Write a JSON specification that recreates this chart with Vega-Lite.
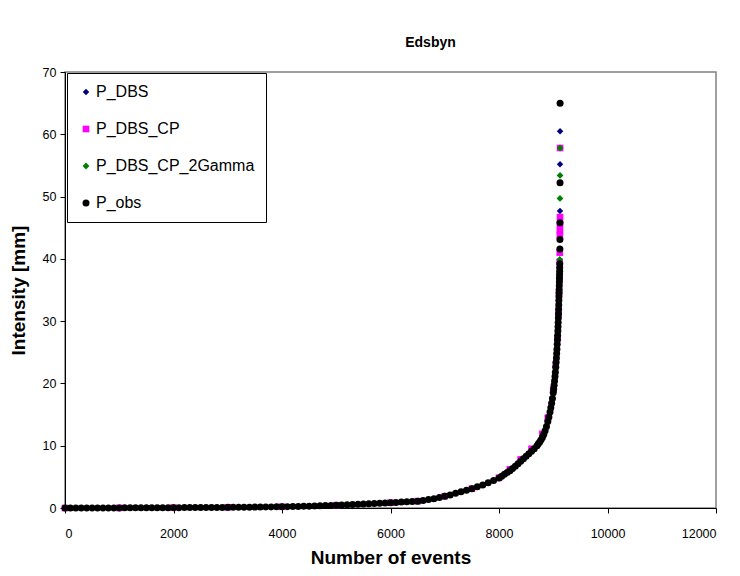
{
  "$schema": "https://vega.github.io/schema/vega-lite/v6.json",
  "width": 651,
  "height": 436,
  "autosize": {"type": "none"},
  "padding": {"left": 65, "top": 72, "right": 24, "bottom": 68},
  "background": "white",
  "config": {
    "font": "Liberation Sans",
    "view": {"stroke": "#808080", "strokeWidth": 1.5},
    "legend": {
      "orient": "none", "legendX": 2, "legendY": 1, "padding": 11, "rowPadding": 21,
      "labelFontSize": 16, "labelFont": "Liberation Sans", "labelColor": "black", "labelLimit": 300,
      "strokeColor": "#000000", "fillColor": "white", "symbolStrokeWidth": 0, "labelOffset": 2
    },
    "axis": {
      "grid": false, "domainColor": "black", "tickColor": "black", "tickSize": 5,
      "labelFont": "Liberation Sans", "labelFontSize": 12.5, "labelColor": "black",
      "titleFont": "Liberation Sans", "titleFontSize": 19, "titleFontWeight": "bold", "titleColor": "black"
    }
  },
  "title": {"text": "Edsbyn", "fontSize": 14, "fontWeight": "bold", "font": "Liberation Sans", "anchor": "middle", "dx": 40, "offset": 16, "color": "black"},
  "data": {"values": [
    {"s":"P_DBS","x":0,"y":0},{"s":"P_DBS","x":1000,"y":0.02},{"s":"P_DBS","x":2000,"y":0.06},{"s":"P_DBS","x":3000,"y":0.11},{"s":"P_DBS","x":4000,"y":0.2},{"s":"P_DBS","x":5000,"y":0.45},{"s":"P_DBS","x":6000,"y":0.85},{"s":"P_DBS","x":6500,"y":1.1},{"s":"P_DBS","x":7000,"y":1.9},{"s":"P_DBS","x":7500,"y":3.1},{"s":"P_DBS","x":8000,"y":4.8},{"s":"P_DBS","x":8200,"y":6.0},{"s":"P_DBS","x":8400,"y":7.5},{"s":"P_DBS","x":8600,"y":9.1},{"s":"P_DBS","x":8800,"y":11.3},{"s":"P_DBS","x":8900,"y":13.9},{"s":"P_DBS","x":9000,"y":18.5},{"s":"P_DBS","x":9046,"y":22.6},{"s":"P_DBS","x":9077,"y":27.0},{"s":"P_DBS","x":9097,"y":31.2},{"s":"P_DBS","x":9107,"y":34.5},{"s":"P_DBS","x":9115,"y":36.9},{"s":"P_DBS","x":9119,"y":38.6},{"s":"P_DBS","x":9120,"y":39.4},{"s":"P_DBS","x":9122,"y":41.6},{"s":"P_DBS","x":9123,"y":43.2},{"s":"P_DBS","x":9124,"y":47.7},{"s":"P_DBS","x":9125,"y":55.2},{"s":"P_DBS","x":9126,"y":60.5},
    {"s":"P_DBS_CP","x":0,"y":0},{"s":"P_DBS_CP","x":1000,"y":0.02},{"s":"P_DBS_CP","x":2000,"y":0.06},{"s":"P_DBS_CP","x":3000,"y":0.11},{"s":"P_DBS_CP","x":4000,"y":0.2},{"s":"P_DBS_CP","x":5000,"y":0.45},{"s":"P_DBS_CP","x":6000,"y":0.85},{"s":"P_DBS_CP","x":6500,"y":1.1},{"s":"P_DBS_CP","x":7000,"y":1.9},{"s":"P_DBS_CP","x":7500,"y":3.1},{"s":"P_DBS_CP","x":8000,"y":4.85},{"s":"P_DBS_CP","x":8200,"y":6.2},{"s":"P_DBS_CP","x":8400,"y":7.8},{"s":"P_DBS_CP","x":8600,"y":9.5},{"s":"P_DBS_CP","x":8800,"y":11.9},{"s":"P_DBS_CP","x":8900,"y":14.5},{"s":"P_DBS_CP","x":9000,"y":19.0},{"s":"P_DBS_CP","x":9046,"y":23.0},{"s":"P_DBS_CP","x":9077,"y":27.3},{"s":"P_DBS_CP","x":9097,"y":31.2},{"s":"P_DBS_CP","x":9107,"y":34.5},{"s":"P_DBS_CP","x":9115,"y":36.9},{"s":"P_DBS_CP","x":9119,"y":39.5},{"s":"P_DBS_CP","x":9120,"y":41.0},{"s":"P_DBS_CP","x":9122,"y":43.8},{"s":"P_DBS_CP","x":9123,"y":44.6},{"s":"P_DBS_CP","x":9124,"y":45.6},{"s":"P_DBS_CP","x":9125,"y":46.7},{"s":"P_DBS_CP","x":9126,"y":57.8},
    {"s":"P_DBS_CP_2Gamma","x":0,"y":0},{"s":"P_DBS_CP_2Gamma","x":1000,"y":0.02},{"s":"P_DBS_CP_2Gamma","x":2000,"y":0.06},{"s":"P_DBS_CP_2Gamma","x":3000,"y":0.11},{"s":"P_DBS_CP_2Gamma","x":4000,"y":0.2},{"s":"P_DBS_CP_2Gamma","x":5000,"y":0.45},{"s":"P_DBS_CP_2Gamma","x":6000,"y":0.85},{"s":"P_DBS_CP_2Gamma","x":6500,"y":1.1},{"s":"P_DBS_CP_2Gamma","x":7000,"y":1.9},{"s":"P_DBS_CP_2Gamma","x":7500,"y":3.1},{"s":"P_DBS_CP_2Gamma","x":8000,"y":4.8},{"s":"P_DBS_CP_2Gamma","x":8200,"y":6.0},{"s":"P_DBS_CP_2Gamma","x":8400,"y":7.6},{"s":"P_DBS_CP_2Gamma","x":8600,"y":9.2},{"s":"P_DBS_CP_2Gamma","x":8800,"y":11.5},{"s":"P_DBS_CP_2Gamma","x":8900,"y":14.1},{"s":"P_DBS_CP_2Gamma","x":9000,"y":18.7},{"s":"P_DBS_CP_2Gamma","x":9046,"y":22.7},{"s":"P_DBS_CP_2Gamma","x":9077,"y":27.0},{"s":"P_DBS_CP_2Gamma","x":9097,"y":31.2},{"s":"P_DBS_CP_2Gamma","x":9107,"y":34.5},{"s":"P_DBS_CP_2Gamma","x":9115,"y":36.9},{"s":"P_DBS_CP_2Gamma","x":9119,"y":38.5},{"s":"P_DBS_CP_2Gamma","x":9120,"y":39.9},{"s":"P_DBS_CP_2Gamma","x":9122,"y":41.5},{"s":"P_DBS_CP_2Gamma","x":9123,"y":45.8},{"s":"P_DBS_CP_2Gamma","x":9124,"y":49.7},{"s":"P_DBS_CP_2Gamma","x":9125,"y":53.4},{"s":"P_DBS_CP_2Gamma","x":9126,"y":57.8},
    {"s":"P_obs","x":0,"y":0},{"s":"P_obs","x":100,"y":0},{"s":"P_obs","x":200,"y":0},{"s":"P_obs","x":300,"y":0.01},{"s":"P_obs","x":400,"y":0.01},{"s":"P_obs","x":500,"y":0.01},{"s":"P_obs","x":600,"y":0.01},{"s":"P_obs","x":700,"y":0.02},{"s":"P_obs","x":800,"y":0.02},{"s":"P_obs","x":900,"y":0.02},
    {"s":"P_obs","x":1000,"y":0.02},{"s":"P_obs","x":1100,"y":0.03},{"s":"P_obs","x":1200,"y":0.03},{"s":"P_obs","x":1300,"y":0.03},{"s":"P_obs","x":1400,"y":0.04},{"s":"P_obs","x":1500,"y":0.04},{"s":"P_obs","x":1600,"y":0.04},{"s":"P_obs","x":1700,"y":0.05},{"s":"P_obs","x":1800,"y":0.05},{"s":"P_obs","x":1900,"y":0.05},
    {"s":"P_obs","x":2000,"y":0.06},{"s":"P_obs","x":2100,"y":0.06},{"s":"P_obs","x":2200,"y":0.07},{"s":"P_obs","x":2300,"y":0.07},{"s":"P_obs","x":2400,"y":0.08},{"s":"P_obs","x":2500,"y":0.08},{"s":"P_obs","x":2600,"y":0.09},{"s":"P_obs","x":2700,"y":0.09},{"s":"P_obs","x":2800,"y":0.1},{"s":"P_obs","x":2900,"y":0.1},
    {"s":"P_obs","x":3000,"y":0.11},{"s":"P_obs","x":3100,"y":0.12},{"s":"P_obs","x":3200,"y":0.12},{"s":"P_obs","x":3300,"y":0.13},{"s":"P_obs","x":3400,"y":0.14},{"s":"P_obs","x":3500,"y":0.15},{"s":"P_obs","x":3600,"y":0.16},{"s":"P_obs","x":3700,"y":0.17},{"s":"P_obs","x":3800,"y":0.18},{"s":"P_obs","x":3900,"y":0.19},
    {"s":"P_obs","x":4000,"y":0.2},{"s":"P_obs","x":4100,"y":0.22},{"s":"P_obs","x":4200,"y":0.24},{"s":"P_obs","x":4300,"y":0.26},{"s":"P_obs","x":4400,"y":0.28},{"s":"P_obs","x":4500,"y":0.3},{"s":"P_obs","x":4600,"y":0.33},{"s":"P_obs","x":4700,"y":0.36},{"s":"P_obs","x":4800,"y":0.39},{"s":"P_obs","x":4900,"y":0.42},
    {"s":"P_obs","x":5000,"y":0.45},{"s":"P_obs","x":5100,"y":0.49},{"s":"P_obs","x":5200,"y":0.53},{"s":"P_obs","x":5300,"y":0.57},{"s":"P_obs","x":5400,"y":0.61},{"s":"P_obs","x":5500,"y":0.65},{"s":"P_obs","x":5600,"y":0.69},{"s":"P_obs","x":5700,"y":0.73},{"s":"P_obs","x":5800,"y":0.77},{"s":"P_obs","x":5900,"y":0.81},
    {"s":"P_obs","x":6000,"y":0.85},{"s":"P_obs","x":6100,"y":0.9},{"s":"P_obs","x":6200,"y":0.95},{"s":"P_obs","x":6300,"y":1.0},{"s":"P_obs","x":6400,"y":1.05},{"s":"P_obs","x":6500,"y":1.1},{"s":"P_obs","x":6600,"y":1.2},{"s":"P_obs","x":6700,"y":1.35},{"s":"P_obs","x":6800,"y":1.5},{"s":"P_obs","x":6900,"y":1.7},
    {"s":"P_obs","x":7000,"y":1.9},{"s":"P_obs","x":7100,"y":2.1},{"s":"P_obs","x":7200,"y":2.35},{"s":"P_obs","x":7300,"y":2.6},{"s":"P_obs","x":7400,"y":2.85},{"s":"P_obs","x":7500,"y":3.1},{"s":"P_obs","x":7600,"y":3.4},{"s":"P_obs","x":7700,"y":3.7},{"s":"P_obs","x":7800,"y":4.05},{"s":"P_obs","x":7900,"y":4.4},
    {"s":"P_obs","x":8000,"y":4.8},{"s":"P_obs","x":8050,"y":5.1},{"s":"P_obs","x":8100,"y":5.4},{"s":"P_obs","x":8150,"y":5.7},{"s":"P_obs","x":8200,"y":6.0},{"s":"P_obs","x":8250,"y":6.35},{"s":"P_obs","x":8300,"y":6.7},{"s":"P_obs","x":8350,"y":7.1},{"s":"P_obs","x":8400,"y":7.5},{"s":"P_obs","x":8450,"y":7.9},
    {"s":"P_obs","x":8500,"y":8.3},{"s":"P_obs","x":8550,"y":8.7},{"s":"P_obs","x":8600,"y":9.1},{"s":"P_obs","x":8650,"y":9.5},{"s":"P_obs","x":8700,"y":10.0},{"s":"P_obs","x":8725,"y":10.3},{"s":"P_obs","x":8750,"y":10.6},{"s":"P_obs","x":8775,"y":10.95},{"s":"P_obs","x":8800,"y":11.3},{"s":"P_obs","x":8825,"y":11.8},
    {"s":"P_obs","x":8850,"y":12.4},{"s":"P_obs","x":8875,"y":13.1},{"s":"P_obs","x":8900,"y":13.9},{"s":"P_obs","x":8920,"y":14.6},{"s":"P_obs","x":8940,"y":15.4},{"s":"P_obs","x":8955,"y":16.1},{"s":"P_obs","x":8970,"y":16.8},{"s":"P_obs","x":8985,"y":17.6},{"s":"P_obs","x":9000,"y":18.5},{"s":"P_obs","x":9008,"y":19.1},
    {"s":"P_obs","x":9016,"y":19.7},{"s":"P_obs","x":9024,"y":20.4},{"s":"P_obs","x":9032,"y":21.1},{"s":"P_obs","x":9039,"y":21.8},{"s":"P_obs","x":9046,"y":22.6},{"s":"P_obs","x":9052,"y":23.4},{"s":"P_obs","x":9058,"y":24.1},{"s":"P_obs","x":9063,"y":24.8},{"s":"P_obs","x":9068,"y":25.5},{"s":"P_obs","x":9073,"y":26.3},
    {"s":"P_obs","x":9077,"y":27.0},{"s":"P_obs","x":9081,"y":27.7},{"s":"P_obs","x":9085,"y":28.4},{"s":"P_obs","x":9088,"y":29.1},{"s":"P_obs","x":9091,"y":29.8},{"s":"P_obs","x":9094,"y":30.5},{"s":"P_obs","x":9097,"y":31.2},{"s":"P_obs","x":9099,"y":31.9},{"s":"P_obs","x":9101,"y":32.6},{"s":"P_obs","x":9103,"y":33.3},
    {"s":"P_obs","x":9105,"y":33.9},{"s":"P_obs","x":9107,"y":34.5},{"s":"P_obs","x":9109,"y":35.1},{"s":"P_obs","x":9111,"y":35.7},{"s":"P_obs","x":9113,"y":36.3},{"s":"P_obs","x":9115,"y":36.9},{"s":"P_obs","x":9116,"y":37.5},{"s":"P_obs","x":9118,"y":38.0},{"s":"P_obs","x":9119,"y":38.6},{"s":"P_obs","x":9120,"y":39.2},
    {"s":"P_obs","x":9122,"y":41.6},{"s":"P_obs","x":9123,"y":43.1},{"s":"P_obs","x":9124,"y":45.8},{"s":"P_obs","x":9125,"y":52.2},{"s":"P_obs","x":9126,"y":65.0}
  ]},
  "mark": {"type": "point", "filled": true, "opacity": 1},
  "encoding": {
    "x": {"field": "x", "type": "quantitative", "scale": {"domain": [0, 12000], "nice": false, "zero": true},
      "axis": {"title": "Number of events", "values": [0, 2000, 4000, 6000, 8000, 10000, 12000], "format": "d", "labelPadding": 14, "titlePadding": 9}},
    "y": {"field": "y", "type": "quantitative", "scale": {"domain": [0, 70], "nice": false},
      "axis": {"title": "Intensity [mm]", "values": [0, 10, 20, 30, 40, 50, 60, 70], "labelPadding": 4, "titlePadding": 14}},
    "color": {"field": "s", "type": "nominal", "title": null,
      "scale": {"domain": ["P_DBS", "P_DBS_CP", "P_DBS_CP_2Gamma", "P_obs"], "range": ["#000080", "#FF00FF", "#008000", "#000000"]}},
    "shape": {"field": "s", "type": "nominal", "title": null,
      "scale": {"domain": ["P_DBS", "P_DBS_CP", "P_DBS_CP_2Gamma", "P_obs"], "range": ["diamond", "square", "diamond", "circle"]}},
    "size": {"field": "s", "type": "nominal", "title": null,
      "scale": {"domain": ["P_DBS", "P_DBS_CP", "P_DBS_CP_2Gamma", "P_obs"], "range": [42, 49, 42, 110]}}
  }
}
